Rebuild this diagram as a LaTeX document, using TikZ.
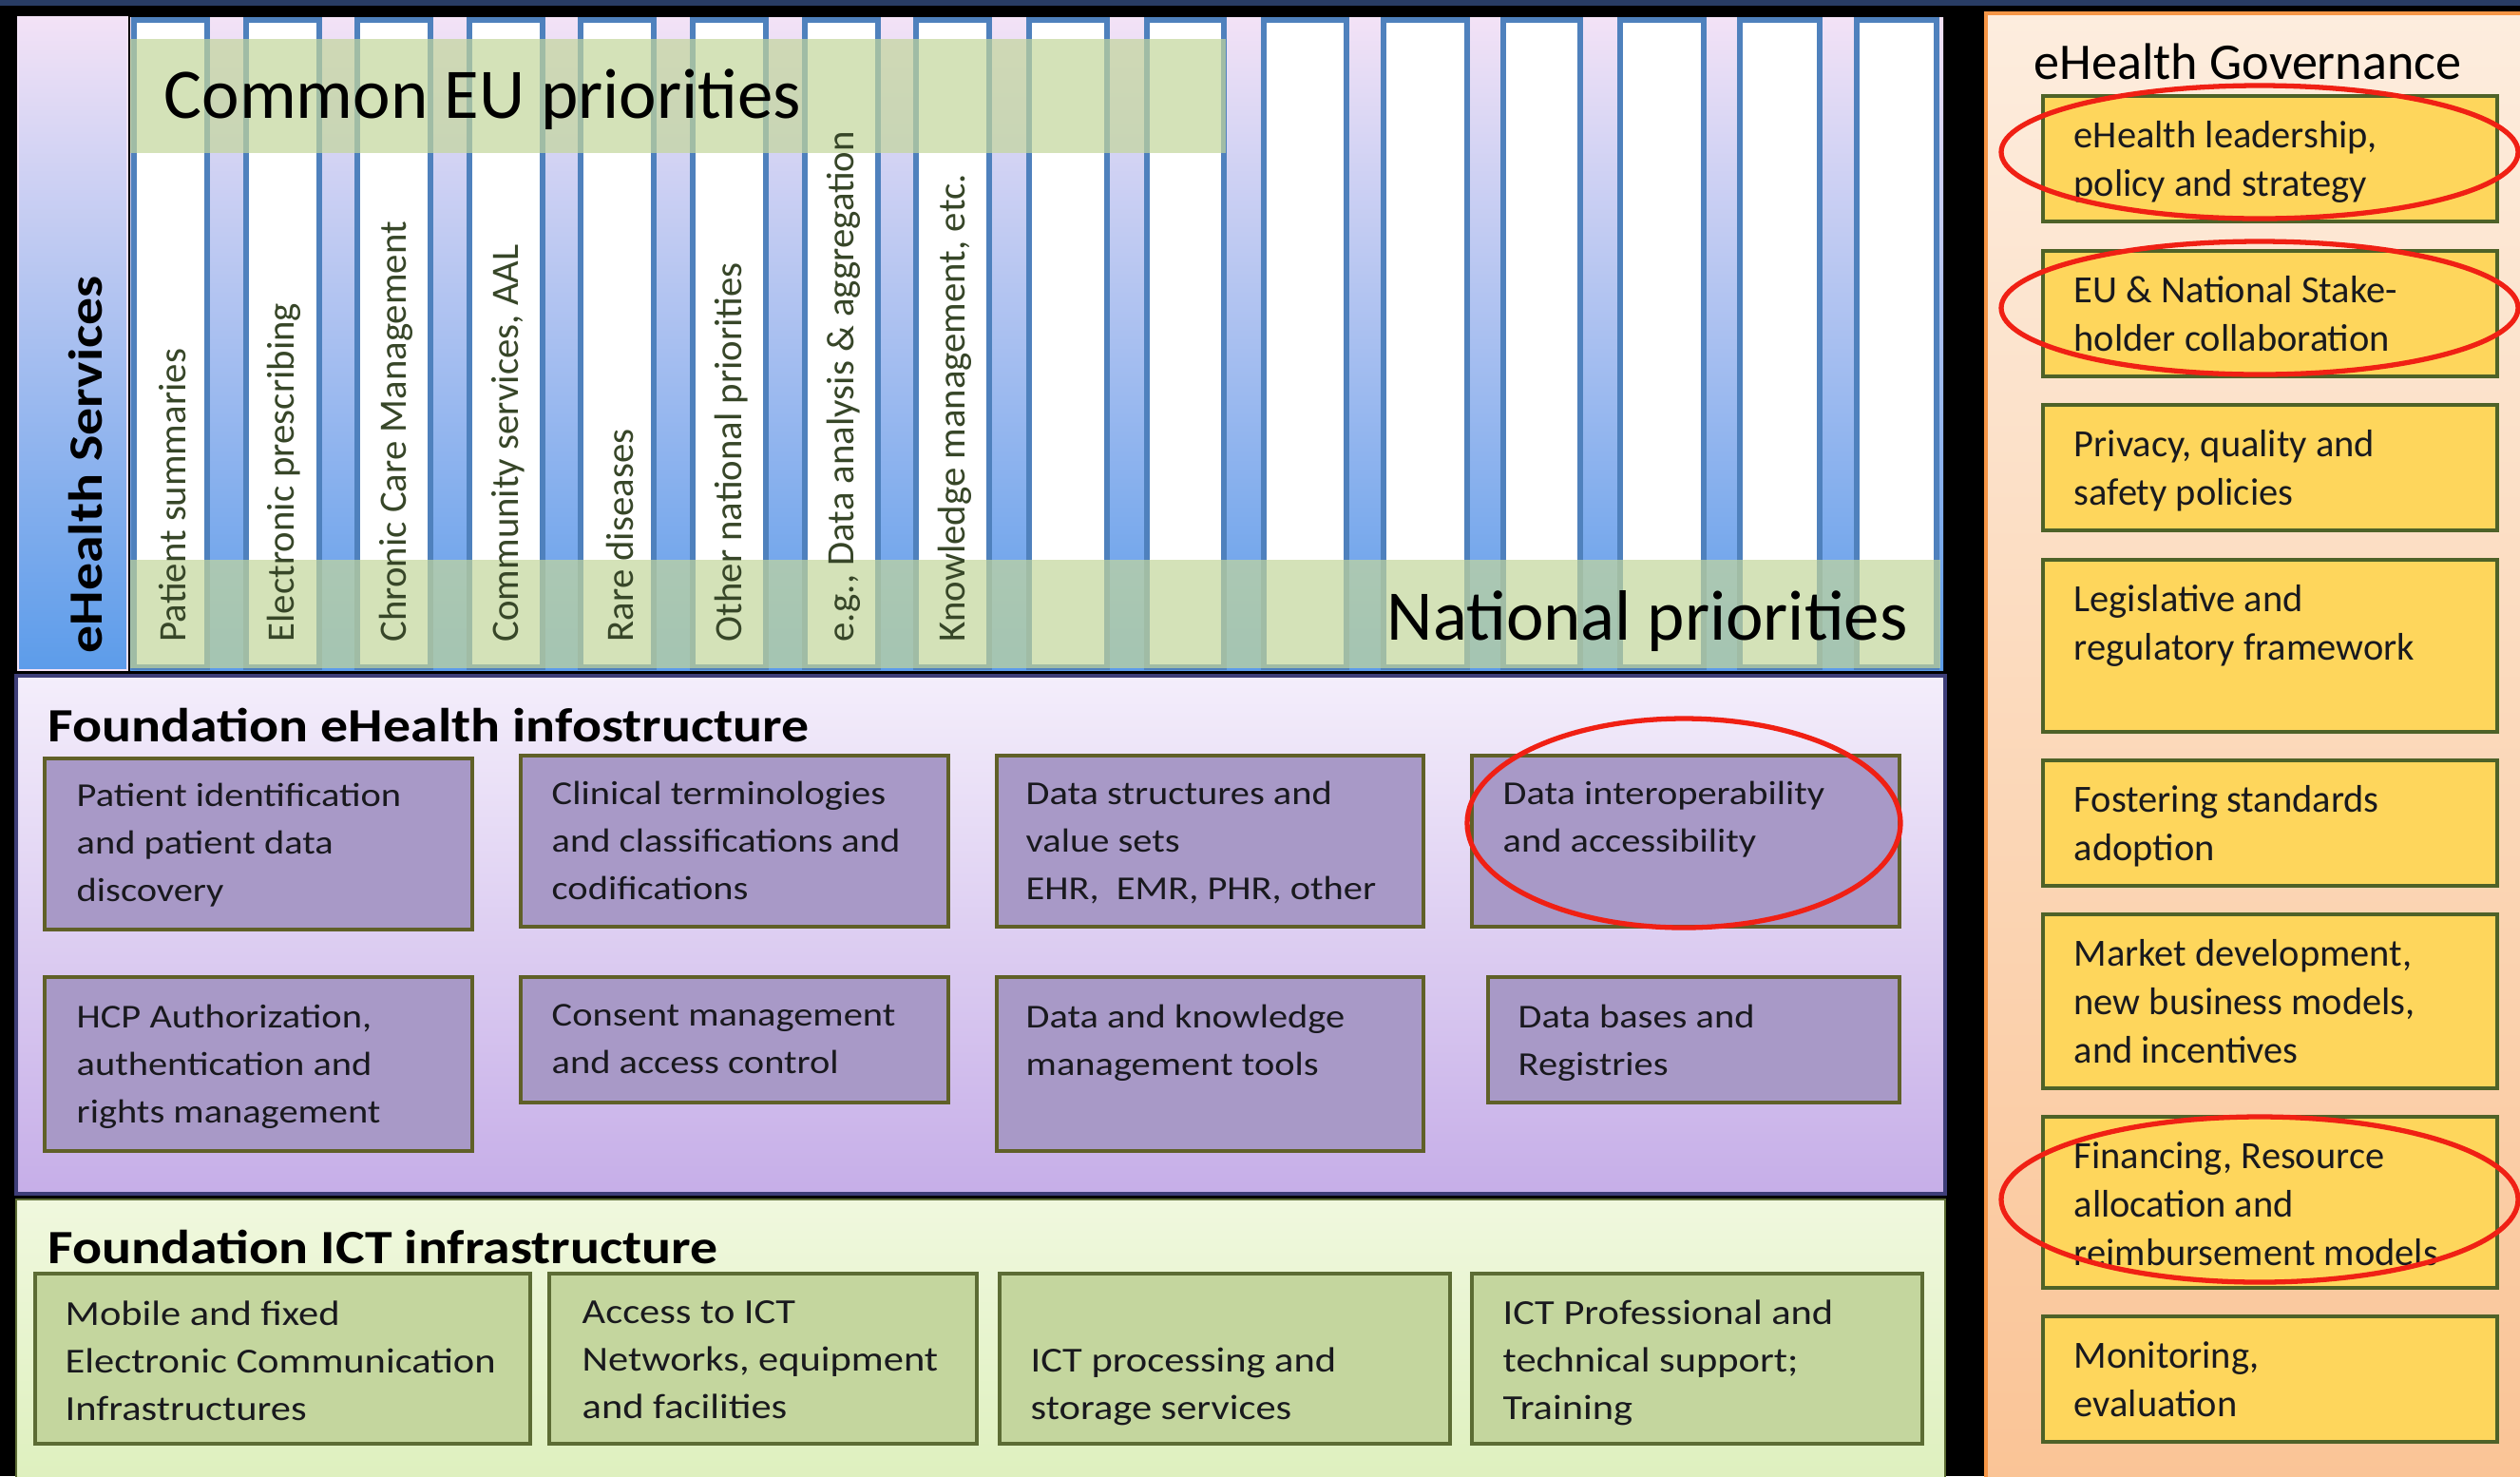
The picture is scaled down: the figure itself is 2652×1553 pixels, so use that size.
\documentclass[tikz,border=0pt]{standalone}
\usepackage{fontspec}
\setmainfont{Carlito}
\newfontfamily\widefont[FakeStretch=1.15]{Carlito}

\definecolor{topnavy}  {RGB}{40,60,100}
\definecolor{colblue}  {RGB}{79,129,189}
\definecolor{striptop} {RGB}{243,226,246}
\definecolor{stripmid} {RGB}{162,196,242}
\definecolor{stripbot} {RGB}{92,156,234}
\definecolor{priogreen}{RGB}{195,214,155}
\definecolor{infotop}  {RGB}{244,238,251}
\definecolor{infobot}  {RGB}{198,174,232}
\definecolor{infoedge} {RGB}{62,62,120}
\definecolor{infofill} {RGB}{168,153,199}
\definecolor{boxedge}  {RGB}{96,96,40}
\definecolor{icttop}   {RGB}{240,248,222}
\definecolor{ictbot}   {RGB}{222,240,190}
\definecolor{ictfill}  {RGB}{196,214,158}
\definecolor{ictedge}  {RGB}{92,108,52}
\definecolor{govtop}   {RGB}{253,237,222}
\definecolor{govbot}   {RGB}{250,196,150}
\definecolor{govedge}  {RGB}{246,150,70}
\definecolor{govfill}  {RGB}{254,214,92}
\definecolor{govbox}   {RGB}{78,98,40}
\definecolor{ringred}  {RGB}{240,32,20}
\definecolor{ink}      {RGB}{25,25,30}
\definecolor{bandink}  {RGB}{55,70,40}

\tikzset{
  col/.style={draw=colblue, line width=1.8pt, fill=white},
  band/.style={fill=priogreen, fill opacity=0.7},
  infobox/.style={draw=boxedge, line width=1.1pt, fill=infofill},
  ictbox/.style={draw=ictedge, line width=1.1pt, fill=ictfill},
  govitem/.style={draw=govbox, line width=1.1pt, fill=govfill},
  boxtext/.style={anchor=north west, inner sep=0pt, align=left, text=ink,
    font=\widefont\fontsize{10}{14.2}\selectfont, execute at begin node=\strut},
  icttext/.style={boxtext, font=\widefont\fontsize{10.5}{14.2}\selectfont},
  govtext/.style={boxtext, font=\fontsize{11.5}{14.5}\selectfont},
  coltext/.style={rotate=90, anchor=west, inner sep=0pt, text=bandink,
    font=\fontsize{11.6}{14}\selectfont},
  title/.style={anchor=base west, inner sep=0pt, text=black,
    font=\widefont\bfseries\fontsize{14.3}{17}\selectfont},
  bigtitle/.style={anchor=base west, inner sep=0pt, text=black,
    font=\fontsize{21.3}{25}\selectfont},
  redring/.style={draw=ringred, line width=1.5pt}
}

\begin{document}
\begin{tikzpicture}[x=0.01cm, y=-0.01cm]

    \useasboundingbox (0,0) rectangle (2652,1553);
    \clip (0,0) rectangle (2652,1553);
    \fill[black] (0,0) rectangle (2652,1553);
    \fill[topnavy] (0,0) rectangle (2652,6);

    % eHealth Services
    \draw[draw=striptop, line width=0.6pt, top color=striptop, middle color=stripmid, bottom color=stripbot] (19,18) rectangle (134,705);
    \fill[top color=striptop, middle color=stripmid, bottom color=stripbot] (137,18) rectangle (2045,705);

    \draw[col] (141,21) rectangle (218,702);
    \draw[col] (259,21) rectangle (336,702);
    \draw[col] (376,21) rectangle (453,702);
    \draw[col] (494,21) rectangle (571,702);
    \draw[col] (611,21) rectangle (688,702);
    \draw[col] (729,21) rectangle (806,702);
    \draw[col] (847,21) rectangle (924,702);
    \draw[col] (964,21) rectangle (1041,702);
    \draw[col] (1083,21) rectangle (1165,702);
    \draw[col] (1207,21) rectangle (1288,702);
    \draw[col] (1330,21) rectangle (1417,702);
    \draw[col] (1456,21) rectangle (1544,702);
    \draw[col] (1582,21) rectangle (1663,702);
    \draw[col] (1705,21) rectangle (1793,702);
    \draw[col] (1831,21) rectangle (1915,702);
    \draw[col] (1954,21) rectangle (2038,702);

    \fill[band] (137,41) rectangle (1290,161);
    \fill[band] (137,589) rectangle (2042,703);

    \node[title, anchor=west, rotate=90] (svc) at (90,688) {eHealth Services};

    \node[coltext] (ps) at (182,676) {Patient summaries};
    \node[coltext] (ep) at (299,676) {Electronic prescribing};
    \node[coltext] (cc) at (417,676) {Chronic Care Management};
    \node[coltext] (cs) at (535,676) {Community services, AAL};
    \node[coltext] (rd) at (652,676) {Rare diseases};
    \node[coltext] (on) at (770,676) {Other national priorities};
    \node[coltext] (da) at (888,676) {e.g., Data analysis \& aggregation};
    \node[coltext] (km) at (1005,676) {Knowledge management, etc.};

    \node[bigtitle] (eu) at (172,124) {Common EU priorities};
    \node[bigtitle] (nat) at (1459,673) {National priorities};

    % Foundation eHealth infostructure
    \draw[draw=infoedge, line width=1.2pt, top color=infotop, bottom color=infobot] (17,711) rectangle (2047,1256);
    \node[title] (fei) at (50,780) {Foundation eHealth infostructure};

    \draw[infobox] (47,798) rectangle (497,978);
    \draw[infobox] (548,795) rectangle (998,975);
    \draw[infobox] (1049,795) rectangle (1498,975);
    \draw[infobox] (1549,795) rectangle (1999,975);
    \draw[infobox] (47,1028) rectangle (497,1211);
    \draw[infobox] (548,1028) rectangle (998,1160);
    \draw[infobox] (1049,1028) rectangle (1498,1211);
    \draw[infobox] (1566,1028) rectangle (1999,1160);

    \node[boxtext] (pid) at (80,823) {Patient identification\\and patient data\\discovery};
    \node[boxtext] (ter) at (580,821) {Clinical terminologies\\and classifications and\\codifications};
    \node[boxtext] (dst) at (1079,821) {Data structures and\\value sets\\EHR,\ \ EMR, PHR, other};
    \node[boxtext] (dio) at (1581,821) {Data interoperability\\and accessibility};
    \node[boxtext] (hcp) at (80,1056) {HCP Authorization,\\authentication and\\rights management};
    \node[boxtext] (con) at (580,1056) {Consent management\\and access control};
    \node[boxtext] (dkm) at (1079,1056) {Data and knowledge\\management tools};
    \node[boxtext] (dbr) at (1597,1056) {Data bases and\\Registries};

    % Foundation ICT infrastructure
    \draw[draw=ictedge, line width=0.8pt, top color=icttop, bottom color=ictbot] (17,1262) rectangle (2047,1560);
    \node[title] (fict) at (50,1329) {Foundation ICT infrastructure};

    \draw[ictbox] (37,1340) rectangle (558,1519);
    \draw[ictbox] (578,1340) rectangle (1028,1519);
    \draw[ictbox] (1052,1340) rectangle (1526,1519);
    \draw[ictbox] (1549,1340) rectangle (2023,1519);

    \node[icttext] (mob) at (68,1368) {Mobile and fixed\\Electronic Communication\\Infrastructures};
    \node[icttext] (acc) at (612,1368) {Access to ICT\\Networks, equipment\\and facilities};
    \node[icttext] (pro) at (1084,1417) {ICT processing and\\storage services};
    \node[icttext] (sup) at (1581,1367) {ICT Professional and\\technical support;\\Training};

    % eHealth Governance
    \draw[draw=govedge, line width=1.2pt, top color=govtop, bottom color=govbot] (2090,14) rectangle (2660,1560);
    \node[anchor=base west, inner sep=0pt, font=\fontsize{15.4}{18}\selectfont] (gov) at (2140,83) {eHealth Governance};

    \draw[govitem] (2150,101) rectangle (2628,233);
    \draw[govitem] (2150,264) rectangle (2628,396);
    \draw[govitem] (2150,426) rectangle (2628,558);
    \draw[govitem] (2150,589) rectangle (2628,770);
    \draw[govitem] (2150,800) rectangle (2628,932);
    \draw[govitem] (2150,962) rectangle (2628,1145);
    \draw[govitem] (2150,1175) rectangle (2628,1355);
    \draw[govitem] (2150,1385) rectangle (2628,1517);

    \node[govtext] (lead) at (2182,127) {eHealth leadership,\\policy and strategy};
    \node[govtext] (stk) at (2182,290) {EU \& National Stake-\\holder collaboration};
    \node[govtext] (prv) at (2182,452) {Privacy, quality and\\safety policies};
    \node[govtext] (leg) at (2182,615) {Legislative and\\regulatory framework};
    \node[govtext] (std) at (2182,826) {Fostering standards\\adoption};
    \node[govtext] (mkt) at (2182,988) {Market development,\\new business models,\\and incentives};
    \node[govtext] (fin) at (2182,1201) {Financing, Resource\\allocation and\\reimbursement models};
    \node[govtext] (mon) at (2182,1411) {Monitoring,\\evaluation};

    \draw[redring] (2378,160) ellipse (272 and 70);
    \draw[redring] (2378,324) ellipse (272 and 70);
    \draw[redring] (1772,866) ellipse (228 and 110);
    \draw[redring] (2378,1262) ellipse (272 and 87);

  \end{tikzpicture}
\end{document}
